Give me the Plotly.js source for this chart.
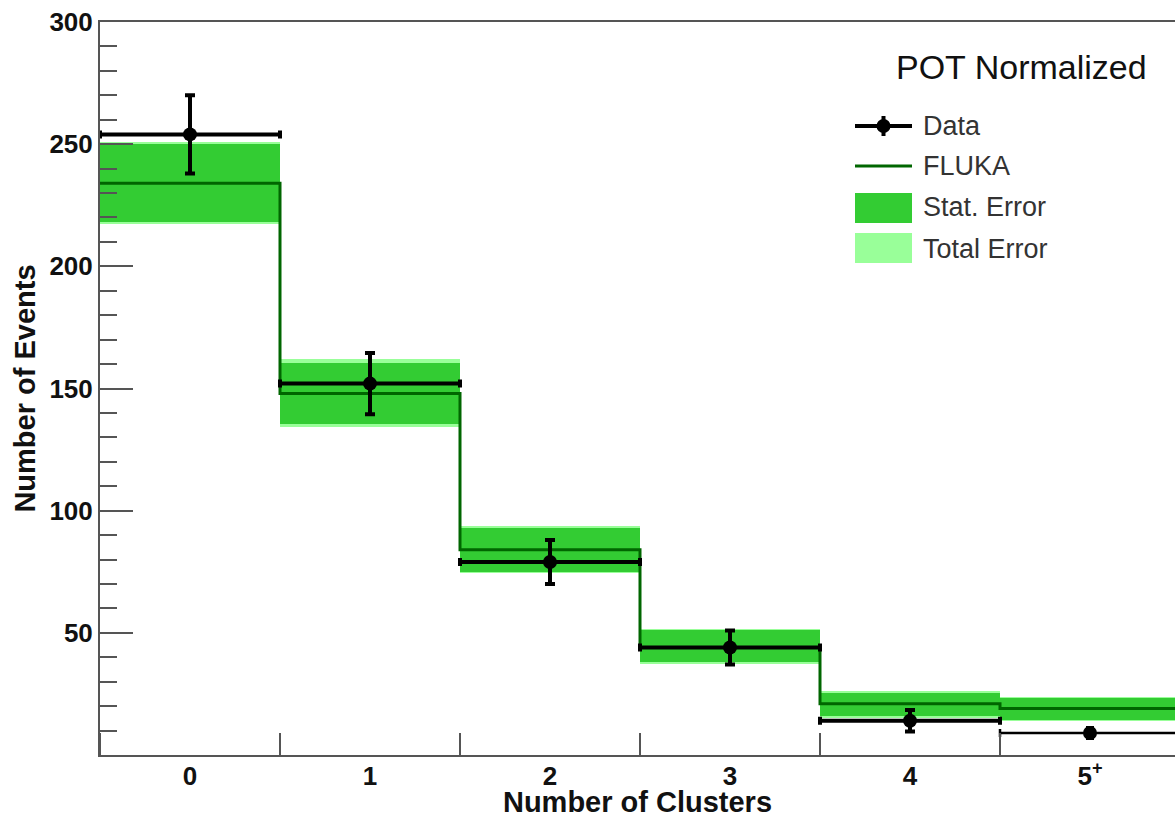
<!DOCTYPE html>
<html>
<head>
<meta charset="utf-8">
<script src="https://cdn.plot.ly/plotly-3.0.1.min.js"></script>
<style>html,body{margin:0;padding:0;background:#fff;overflow:hidden}#chart{width:1175px;height:818px}</style>
</head>
<body>
<div id="chart"></div>
<script>
// Bins (number of clusters)
const binCenters = [0, 1, 2, 3, 4, 5];
const binLabels = ["0", "1", "2", "3", "4", "5<sup>+</sup>"];

// Data (points with statistical errors)
const dataValues = [254, 152, 79, 44, 14, 9];
const dataErrors = [16, 12.5, 9, 7, 4.4, 2.5];

// FLUKA prediction
const flukaValues = [234, 148, 84, 44, 21, 19];

// Statistical error band (low / high)
const statLow  = [218, 135.5, 75, 38, 16, 14.5];
const statHigh = [250, 160.6, 93, 51, 25.3, 23.2];

// Total error band (low / high)
const totalLow  = [217.2, 134.3, 74.3, 37.3, 15.3, 13.8];
const totalHigh = [250.8, 161.9, 93.8, 51.6, 26.0, 23.9];

const binHalf = 0.5;
const axisColor = '#555';
const FONT = 'Liberation Sans, Arial, sans-serif';

const totalTrace = {
  type: 'bar', x: binCenters, base: totalLow,
  y: totalHigh.map((h, i) => h - totalLow[i]),
  width: 1, marker: {color: '#99ff99', line: {width: 0}},
  name: 'Total Error', showlegend: false, hoverinfo: 'skip'
};
const statTrace = {
  type: 'bar', x: binCenters, base: statLow,
  y: statHigh.map((h, i) => h - statLow[i]),
  width: 1, marker: {color: '#33cc33', line: {width: 0}},
  name: 'Stat. Error', showlegend: false, hoverinfo: 'skip'
};

// FLUKA step histogram: bin edges from centres
const edges = binCenters.map(c => c - binHalf).concat([binCenters[binCenters.length - 1] + binHalf]);
const flukaStep = flukaValues.concat([flukaValues[flukaValues.length - 1]]);
const flukaTrace = {
  type: 'scatter', mode: 'lines', x: edges, y: flukaStep,
  line: {shape: 'hv', color: '#006600', width: 3},
  name: 'FLUKA', showlegend: false
};

const n = binCenters.length;
const dataMain = {
  type: 'scatter', mode: 'markers',
  x: binCenters.slice(0, n - 1), y: dataValues.slice(0, n - 1),
  marker: {color: '#000', size: 14},
  error_y: {type: 'data', array: dataErrors.slice(0, n - 1), color: '#000', thickness: 4, width: 5},
  error_x: {type: 'constant', value: binHalf, color: '#000', thickness: 4, width: 4},
  name: 'Data', showlegend: false
};
const dataLast = {
  type: 'scatter', mode: 'markers',
  x: binCenters.slice(n - 1), y: dataValues.slice(n - 1),
  marker: {color: '#000', size: 14},
  error_y: {type: 'data', array: dataErrors.slice(n - 1), color: '#000', thickness: 2, width: 4},
  error_x: {type: 'constant', value: binHalf, color: '#000', thickness: 2.5, width: 4},
  name: 'Data', showlegend: false
};

// Custom legend (paper coordinates)
const W = 1175, H = 818, mL = 100, mR = 0, mT = 22, mB = 63;
const pw = W - mL - mR, ph = H - mT - mB;
const px = v => (v - mL) / pw;
const py = v => (H - mB - v) / ph;

const shapes = [
  {type: 'rect', xref: 'paper', yref: 'paper', x0: px(855), x1: px(912), y0: py(263), y1: py(233), fillcolor: '#99ff99', line: {width: 0}},
  {type: 'rect', xref: 'paper', yref: 'paper', x0: px(855), x1: px(912), y0: py(223), y1: py(193), fillcolor: '#33cc33', line: {width: 0}},
  {type: 'line', xref: 'paper', yref: 'paper', x0: px(855), x1: px(912), y0: py(166), y1: py(166), line: {color: '#006600', width: 3}},
  {type: 'line', xref: 'paper', yref: 'paper', x0: px(855), x1: px(912), y0: py(126), y1: py(126), line: {color: '#000', width: 4}},
  {type: 'line', xref: 'paper', yref: 'paper', x0: px(883.5), x1: px(883.5), y0: py(116), y1: py(136), line: {color: '#000', width: 4}},
  {type: 'circle', xref: 'paper', yref: 'paper', x0: px(876.5), x1: px(890.5), y0: py(133), y1: py(119), fillcolor: '#000', line: {width: 0}}
];

const legendFont = {family: FONT, size: 27, color: '#333'};
const annotations = [
  {xref: 'paper', yref: 'paper', x: px(1021.5), y: py(67), text: 'POT Normalized', showarrow: false, xanchor: 'center', yanchor: 'middle', font: {family: FONT, size: 34, color: '#111'}},
  {xref: 'paper', yref: 'paper', x: px(921), y: py(126), text: 'Data', showarrow: false, xanchor: 'left', yanchor: 'middle', font: legendFont},
  {xref: 'paper', yref: 'paper', x: px(921), y: py(166), text: 'FLUKA', showarrow: false, xanchor: 'left', yanchor: 'middle', font: legendFont},
  {xref: 'paper', yref: 'paper', x: px(921), y: py(207), text: 'Stat. Error', showarrow: false, xanchor: 'left', yanchor: 'middle', font: legendFont},
  {xref: 'paper', yref: 'paper', x: px(921), y: py(249), text: 'Total Error', showarrow: false, xanchor: 'left', yanchor: 'middle', font: legendFont}
];

const tickFont = {family: FONT, size: 26, color: '#111', weight: 'bold'};
const titleFont = {family: FONT, size: 29, color: '#111', weight: 'bold'};

const layout = {
  width: W, height: H,
  margin: {l: mL, r: mR, t: mT, b: mB, pad: 0},
  paper_bgcolor: '#fff', plot_bgcolor: '#fff',
  barmode: 'overlay', bargap: 0,
  showlegend: false,
  xaxis: {
    range: [-0.5, -0.5 + pw / 180],
    tickmode: 'array', tickvals: binCenters, ticktext: binLabels,
    ticks: '', showgrid: false, zeroline: false,
    showline: true, linecolor: axisColor, linewidth: 2, mirror: true,
    tickfont: tickFont, ticklabelstandoff: -3,
    minor: {tickmode: 'linear', tick0: 0.5, dtick: 1, ticks: 'inside', ticklen: 22, tickwidth: 2, tickcolor: axisColor, showgrid: false},
    title: {text: 'Number of Clusters', font: titleFont, standoff: 20},
    fixedrange: true
  },
  yaxis: {
    range: [0, 300],
    tickmode: 'array', tickvals: [50, 100, 150, 200, 250, 300],
    ticks: 'inside', ticklen: 33, tickwidth: 2, tickcolor: axisColor,
    showgrid: false, zeroline: false,
    showline: true, linecolor: axisColor, linewidth: 2,
    tickfont: tickFont,
    minor: {tickmode: 'linear', tick0: 0, dtick: 10, ticks: 'inside', ticklen: 17, tickwidth: 2, tickcolor: axisColor, showgrid: false},
    title: {text: 'Number of Events', font: titleFont, standoff: 5},
    fixedrange: true
  },
  shapes: shapes,
  annotations: annotations
};

Plotly.newPlot('chart', [totalTrace, statTrace, flukaTrace, dataMain, dataLast], layout, {displayModeBar: false, staticPlot: true});
</script>
</body>
</html>
